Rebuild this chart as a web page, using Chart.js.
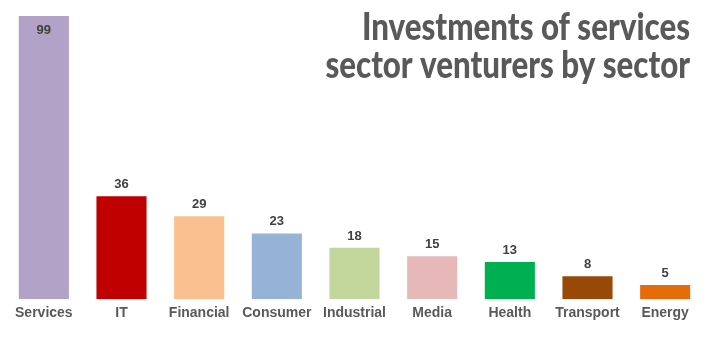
<!DOCTYPE html>
<html>
<head>
<meta charset="utf-8">
<script src="https://cdn.jsdelivr.net/npm/chart.js@4.4.1/dist/chart.umd.min.js"></script>
<style>
  html, body { margin: 0; padding: 0; background: #fff; }
  #wrap { width: 708px; height: 338px; }
</style>
</head>
<body>
<div id="wrap"><canvas id="chart" width="708" height="338"></canvas></div>
<script>
// Data
const sectors = ['Services', 'IT', 'Financial', 'Consumer', 'Industrial', 'Media', 'Health', 'Transport', 'Energy'];
const investments = [99, 36, 29, 23, 18, 15, 13, 8, 5];
const barColors = ['#B2A2C7', '#C00000', '#FAC090', '#95B3D7', '#C3D69B', '#E6B9B8', '#00B050', '#984807', '#E46C0A'];
const titleLines = ['Investments of services', 'sector venturers by sector'];

// value labels above each bar (inside when there is no room)
const valueLabels = {
    id: 'valueLabels',
    afterDatasetsDraw(chart) {
        const ctx = chart.ctx;
        const meta = chart.getDatasetMeta(0);
        ctx.save();
        ctx.font = 'bold 13px "Liberation Sans", Arial, sans-serif';
        ctx.fillStyle = '#404040';
        ctx.textAlign = 'center';
        ctx.textBaseline = 'alphabetic';
        meta.data.forEach((bar, i) => {
            let y = bar.y - 8;
            if (y - 12 < chart.chartArea.top) y = bar.y + 18;
            ctx.fillText(investments[i], bar.x, y);
        });
        ctx.restore();
    }
};

// big condensed title at the top right
const cornerTitle = {
    id: 'cornerTitle',
    afterDraw(chart) {
        const ctx = chart.ctx;
        ctx.save();
        ctx.font = '900 37px Lato, "DejaVu Sans Condensed", sans-serif';
        ctx.fillStyle = '#595959';
        ctx.textAlign = 'right';
        ctx.textBaseline = 'alphabetic';
        const right = 690;
        const targetWidth = 328;
        const w = ctx.measureText(titleLines[0]).width;
        const sx = targetWidth / w;
        ctx.translate(right, 0);
        ctx.scale(sx, 1);
        ctx.fillText(titleLines[0], 0, 40);
        ctx.fillText(titleLines[1], 0, 78);
        ctx.restore();
    }
};

new Chart(document.getElementById('chart'), {
    type: 'bar',
    data: {
        labels: sectors,
        datasets: [{
            data: investments,
            backgroundColor: barColors,
            categoryPercentage: 1,
            barPercentage: 0.645
        }]
    },
    options: {
        responsive: false,
        animation: false,
        layout: { padding: { left: 5, right: 4, top: 16, bottom: 10 } },
        plugins: {
            legend: { display: false },
            tooltip: { enabled: false }
        },
        scales: {
            x: {
                grid: { display: false, drawTicks: false },
                border: { display: false },
                ticks: {
                    color: '#595959',
                    font: { family: '"Liberation Sans", Arial, sans-serif', size: 14, weight: 'bold' },
                    maxRotation: 0,
                    autoSkip: false,
                    padding: 6
                }
            },
            y: {
                display: false,
                min: 0,
                max: 99
            }
        }
    },
    plugins: [valueLabels, cornerTitle]
});
</script>
</body>
</html>
